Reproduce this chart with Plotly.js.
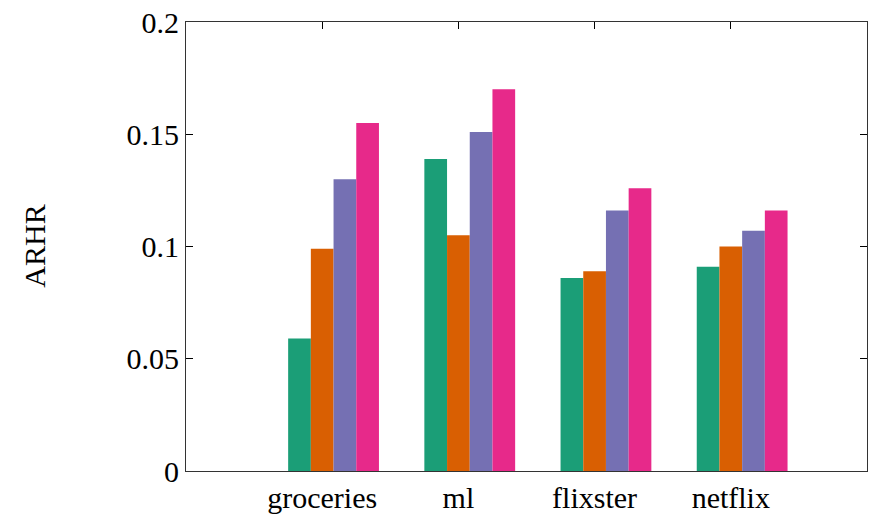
<!DOCTYPE html>
<html>
<head>
<meta charset="utf-8">
<script src="https://cdn.plot.ly/plotly-3.0.1.min.js"></script>
<style>
html,body{margin:0;padding:0;background:#fff;}
#chart{width:871px;height:522px;}
svg text{font-family:"Liberation Serif", serif !important;}
</style>
</head>
<body>
<div id="chart"></div>
<script>
const categories = ["groceries", "ml", "flixster", "netflix"];
const series1 = [0.059, 0.139, 0.086, 0.091];
const series2 = [0.099, 0.105, 0.089, 0.100];
const series3 = [0.130, 0.151, 0.116, 0.107];
const series4 = [0.155, 0.170, 0.126, 0.116];
const yTicks = [0, 0.05, 0.1, 0.15, 0.2];
const yTickText = ["0", "0.05", "0.1", "0.15", "0.2"];
const yTitle = "ARHR";

const colors = ["#1b9e77", "#d95f02", "#7570b3", "#e7298a"];
const allSeries = [series1, series2, series3, series4];
const pos = categories.map((c, i) => i);
const barW = 1 / 6;
const offsets = [-0.25, -0.25 + barW, -0.25 + 2 * barW, -0.25 + 3 * barW];

const traces = allSeries.map((s, k) => ({
  type: "bar",
  x: pos,
  y: s,
  width: barW,
  offset: offsets[k],
  marker: {color: colors[k]},
  showlegend: false,
  hoverinfo: "skip"
}));

const layout = {
  width: 871, height: 522,
  margin: {l: 186, r: 4, t: 22, b: 51},
  paper_bgcolor: "white", plot_bgcolor: "white",
  barmode: "overlay",
  font: {family: "Liberation Serif", size: 30, color: "black"},
  xaxis: {
    range: [-1, 4],
    tickmode: "array", tickvals: pos, ticktext: categories,
    ticks: "inside", ticklen: 7, tickcolor: "black",
    showline: true, linecolor: "#333", linewidth: 1, mirror: "ticks",
    showgrid: false, zeroline: false, layer: "below traces",
    tickfont: {family: "Liberation Serif", size: 30, color: "black"}
  },
  yaxis: {
    range: [0, 0.2],
    tickmode: "array", tickvals: yTicks, ticktext: yTickText,
    ticks: "inside", ticklen: 7, tickcolor: "black",
    showline: true, linecolor: "#333", linewidth: 1, mirror: "ticks",
    showgrid: false, zeroline: false, layer: "below traces",
    tickfont: {family: "Liberation Serif", size: 30, color: "black"}
  },
  annotations: [{
    text: yTitle, textangle: -90, showarrow: false,
    xref: "paper", yref: "paper", x: -0.223, y: 0.5,
    xanchor: "center", yanchor: "middle",
    font: {family: "Liberation Serif", size: 30, color: "black"}
  }]
};

Plotly.newPlot("chart", traces, layout, {displayModeBar: false});
</script>
</body>
</html>
